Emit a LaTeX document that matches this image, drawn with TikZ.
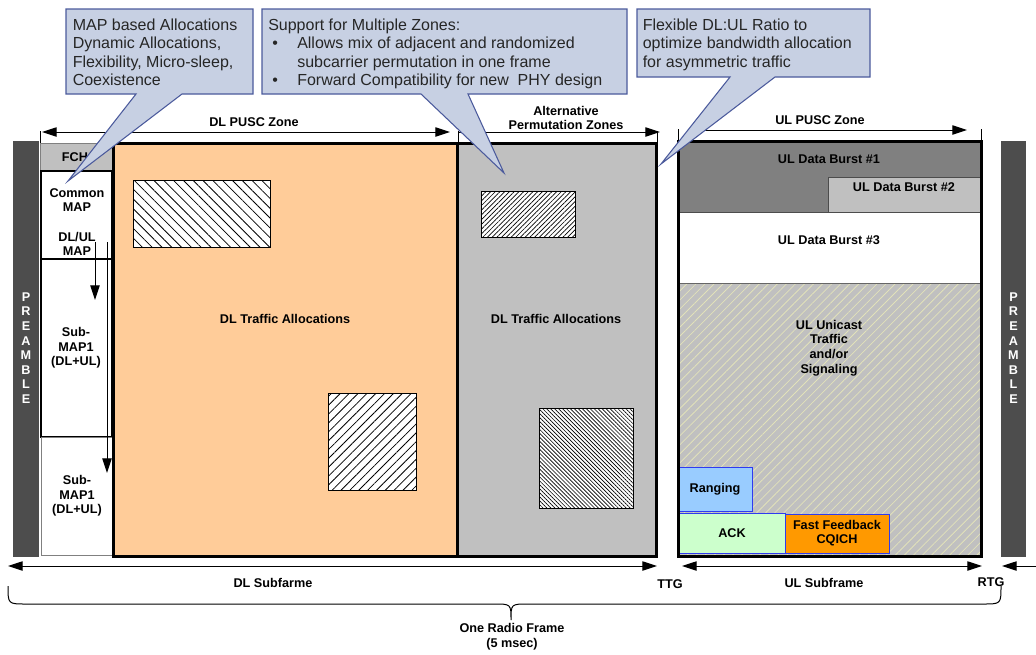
\documentclass[tikz,border=0pt]{standalone}
\usepackage{fontspec}
\setmainfont{Liberation Sans}
\usetikzlibrary{arrows.meta,patterns.meta,positioning}
\definecolor{preamblegray}{HTML}{4D4D4D}
\definecolor{lightgray}{HTML}{C0C0C0}
\definecolor{dlorange}{HTML}{FFCC99}
\definecolor{burstdark}{HTML}{808080}
\definecolor{hatchline}{HTML}{E2E2BA}
\definecolor{rangingblue}{HTML}{99CCFF}
\definecolor{ackgreen}{HTML}{CCFFCC}
\definecolor{cqichorange}{HTML}{FF9900}
\definecolor{boxblue}{HTML}{2E3BF0}
\definecolor{calloutfill}{HTML}{C7D0E3}
\definecolor{calloutline}{HTML}{4B5A9C}
\tikzset{
  lbl/.style={font=\fontsize{9.5}{11}\selectfont\bfseries, align=center, inner sep=0pt},
  prelbl/.style={lbl, text=white, font=\fontsize{9.5}{10.95}\selectfont\bfseries},
  ctext/.style={font=\fontsize{12}{13.8}\selectfont, align=left, anchor=north west, inner sep=0pt, text=black!85},
  callout/.style={fill=calloutfill, draw=calloutline, line width=0.8pt, line join=miter},
  thickbox/.style={draw=black, line width=2.25pt},
  thinline/.style={line width=0.75pt},
  dimline/.style={line width=0.75pt, {Triangle[length=11pt,width=7pt]}-{Triangle[length=11pt,width=7pt]}},
  dimright/.style={line width=0.75pt, -{Triangle[length=11pt,width=7pt]}},
  dimleft/.style={line width=0.75pt, {Triangle[length=11pt,width=7pt]}-},
  hatchbox/.style={draw=black, line width=0.75pt, preaction={fill=white}},
}
\begin{document}
\begin{tikzpicture}[x=0.75pt,y=-0.75pt]
\useasboundingbox (0,0) rectangle (1036,654);

% preambles
\fill[preamblegray] (13,141) rectangle (39,557);
\fill[preamblegray] (1001,141) rectangle (1026,557);
\node[prelbl] (preL) at (26,348) {P\\R\\E\\A\\M\\B\\L\\E};
\node[prelbl] (preR) at (1013.5,348) {P\\R\\E\\A\\M\\B\\L\\E};

% DL map column
\draw[fill=lightgray, draw=gray, thinline] (40,143) rectangle (112,171);
\node[lbl] (fch) at (75,157) {FCH};
\draw[line width=1.5pt, fill=white] (41,171) rectangle (112,259);
\node[lbl] (cmap) at (77,200) {Common\\MAP};
\node[lbl] (dlulmap) at (77,244) {DL/UL\\MAP};
\draw[line width=1.5pt, fill=white] (41,259) rectangle (112,437);
\node[lbl] (submapA) at (76,348) {Sub-\\MAP1\\(DL+UL)};
\draw[draw=gray, thinline, fill=white] (41,437) rectangle (112,555);
\node[lbl] (submapB) at (77,496) {Sub-\\MAP1\\(DL+UL)};
\draw[dimright] (95,242) -- (95,300);
\draw[dimright] (107,242) -- (107,473);

% DL zones
\draw[thickbox, fill=dlorange] (113,143) rectangle (457,556);
\node[lbl] (dltrafficA) at (285,319) {DL Traffic Allocations};
\draw[thickbox, fill=lightgray] (457,143) rectangle (656,556);
\node[lbl] (dltrafficB) at (556,319) {DL Traffic Allocations};

% bursts in DL
\draw[hatchbox, pattern={Lines[angle=-45,distance=5.2pt,line width=0.6pt]}] (133,180) rectangle (270,247);
\draw[hatchbox, pattern={Lines[angle=45,distance=4.7pt,line width=0.6pt]}] (328,393) rectangle (416,490);
\draw[hatchbox, pattern={Lines[angle=45,distance=2.5pt,line width=0.5pt]}] (481,191) rectangle (575,237);
\draw[hatchbox, pattern={Lines[angle=-45,distance=2.1pt,line width=0.5pt]}] (539,408) rectangle (633,508);

% UL subframe
\fill[burstdark] (678,141) rectangle (981,212);
\draw[fill=lightgray, draw=black!70, thinline] (828,177) rectangle (981,212);
\draw[fill=white, draw=black!70, thinline] (678,212) rectangle (981,283);
\fill[lightgray] (678,283) rectangle (981,556);
\fill[pattern={Lines[angle=45,distance=4.8pt,line width=0.6pt]}, pattern color=hatchline] (678,283) rectangle (981,556);
\draw[draw=black!60, thinline] (678,283) -- (981,283);
\node[lbl] (burstA) at (829,159) {UL Data Burst \#1};
\node[lbl] (burstB) at (904,187) {UL Data Burst \#2};
\node[lbl] (burstC) at (829,240) {UL Data Burst \#3};
\node[lbl] (unicast) at (829,348) {UL Unicast\\Traffic\\and/or\\Signaling};
\draw[fill=rangingblue, draw=boxblue, thinline] (679,467) rectangle (752,511);
\node[lbl] (ranging) at (715,489) {Ranging};
\draw[fill=ackgreen, draw=boxblue, thinline] (679,513) rectangle (785,553);
\node[lbl] (ack) at (732,533) {ACK};
\draw[fill=cqichorange, draw=boxblue, thinline] (785,514) rectangle (889,553);
\node[lbl] (cqich) at (837,533) {Fast Feedback\\CQICH};
\draw[thickbox] (678,141) rectangle (981,556);

% zone dimensions
\draw[thinline] (40,131) -- (40,143);
\draw[thinline] (458,131) -- (458,143);
\draw[thinline] (657,131) -- (657,143);
\draw[thinline] (678,129) -- (678,141);
\draw[thinline] (981,129) -- (981,141);
\coordinate (dlpuscW) at (42,132);
\coordinate (dlpuscE) at (450,132);
\coordinate (altW) at (459,132);
\coordinate (altE) at (660,132);
\coordinate (ulpuscW) at (692,130);
\coordinate (ulpuscE) at (967,130);
\draw[dimline] (dlpuscW) -- (dlpuscE);
\draw[dimright] (altW) -- (altE);
\draw[dimright] (ulpuscW) -- (ulpuscE);
\node[lbl] (dlpusc) at (254,122) {DL PUSC Zone};
\node[lbl] (altzones) at (566,118) {Alternative\\Permutation Zones};
\node[lbl] (ulpusc) at (820,120) {UL PUSC Zone};

% subframe dimensions
\coordinate (dlsubW) at (8,566);
\coordinate (dlsubE) at (657,566);
\coordinate (ulsubW) at (682,566);
\coordinate (ulsubE) at (982,566);
\coordinate (nextW) at (1002,566);
\coordinate (nextE) at (1036,566);
\draw[dimline] (dlsubW) -- (dlsubE);
\draw[dimline] (ulsubW) -- (ulsubE);
\draw[dimleft] (nextW) -- (nextE);
\node[lbl] (dlsub) at (273,583) {DL Subfarme};
\node[lbl] (ttg) at (670,584) {TTG};
\node[lbl] (ulsub) at (824,583) {UL Subframe};
\node[lbl] (rtg) at (991,582) {RTG};

% radio frame brace
\coordinate (braceW) at (8,586);
\coordinate (braceTip) at (511,620);
\coordinate (braceE) at (1001,586);
\draw[thinline] (braceW) .. controls (8,604) .. (26,604) -- (494,604)
  .. controls (511,604) .. (braceTip) .. controls (511,604) .. (528,604)
  -- (983,604) .. controls (1001,604) .. (braceE);
\node[lbl] (frame) at (512,637) {One Radio Frame\\(5 msec)};

% callouts
\coordinate (tipMap) at (68,181);
\coordinate (tipZones) at (504,173);
\coordinate (tipRatio) at (661,164);
\draw[callout] (66,9) -- (253,9) -- (253,94) -- (182,94) -- (tipMap) -- (136,94) -- (66,94) -- cycle;
\draw[callout] (262,9) -- (627,9) -- (627,94) -- (468,94) -- (tipZones) -- (421,94) -- (262,94) -- cycle;
\draw[callout] (637,9) -- (870,9) -- (870,77) -- (775,77) -- (tipRatio) -- (730,77) -- (637,77) -- cycle;
\node[ctext] (noteMap) at (72.5,18.5) {MAP based Allocations\\Dynamic Allocations,\\Flexibility, Micro-sleep,\\Coexistence};
\node[ctext] (noteZones) at (268,18.5) {Support for Multiple Zones:\\
  \hspace*{3pt}\makebox[18.75pt][l]{\textbullet}Allows mix of adjacent and randomized\\
  \hspace*{21.75pt}subcarrier permutation in one frame\\
  \hspace*{3pt}\makebox[18.75pt][l]{\textbullet}Forward Compatibility for new~ PHY design};
\node[ctext] (noteRatio) at (642.5,18.5) {Flexible DL:UL Ratio to\\optimize bandwidth allocation\\for asymmetric traffic};
\end{tikzpicture}
\end{document}
